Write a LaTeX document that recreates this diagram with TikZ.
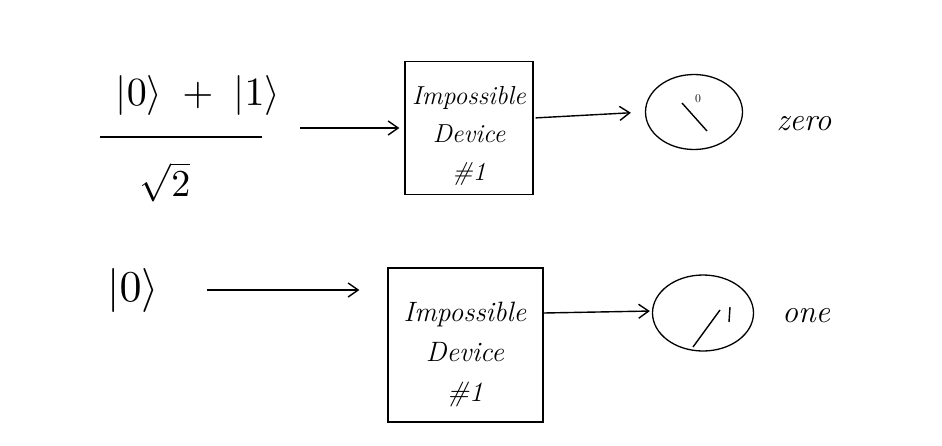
\documentclass[tikz,border=0pt]{standalone}
\usetikzlibrary{arrows.meta, shapes.geometric}

\begin{document}
\begin{tikzpicture}[x=1pt, y=-1pt, line width=1.4pt,
	handarrow/.style={arrows={-Straight Barb[length=10pt, width=14pt]}},
	device/.style={draw, line width=1.3pt},
	devtext/.style={align=center, font=\fontsize{26}{38}\selectfont\itshape},
	meter/.style={draw, ellipse, line width=1.3pt},
	word/.style={font=\fontsize{32}{36}\selectfont\itshape}]
	\useasboundingbox (0,0) rectangle (942,445);

	\coordinate (barL) at (100, 137);
	\coordinate (barR) at (262, 137);
	\coordinate (inA) at (300, 128);

	\node (num) at (198, 95) {\scalebox{4}{$|0\rangle\;+\;|1\rangle$}};
	\node (den) at (165, 182) {\scalebox{3.8}{$\sqrt{2}$}};
	\draw (barL) -- (barR);
	\node (ketzero) at (133, 290) {\scalebox{4.4}{$|0\rangle$}};

	\node [device, minimum width=128pt, minimum height=133pt] (devA) at (469, 128) {};
	\node [devtext] (labA) at (469, 136) {Impossible\\Device\\\#1};
	\node [device, minimum width=155pt, minimum height=154pt] (devB) at (465.5, 345) {};
	\node [devtext, font=\fontsize{28}{40}\selectfont\itshape] (labB) at (465, 354) {Impossible\\Device\\\#1};

	\node [meter, minimum width=97pt, minimum height=75pt] (meterA) at (694, 112) {};
	\node [meter, minimum width=101pt, minimum height=76pt] (meterB) at (703, 313) {};

	\draw [handarrow, shorten >=5pt] (inA) -- (devA.west);
	\draw [handarrow, shorten <=44pt, shorten >=28pt] (ketzero.east) -- (ketzero.east -| devB.west);
	\draw [handarrow, shorten <=2pt, shorten >=14pt] (devA.east |- 0, 118) -- (meterA.west |- 0, 112);
	\draw [handarrow, shorten >=2pt] (devB.east |- 0, 313) -- (meterB.west |- 0, 311);

	\draw (682, 103) -- (707, 131);
	\node [font=\fontsize{12}{14}\selectfont] (zeroA) at (698, 99) {0};
	\draw (693, 347) -- (720, 310);
	\draw (730, 307) -- (729, 322);

	\node [word] (zeroW) at (804, 124) {zero};
	\node [word] (oneW) at (806, 316) {one};
\end{tikzpicture}
\end{document}
